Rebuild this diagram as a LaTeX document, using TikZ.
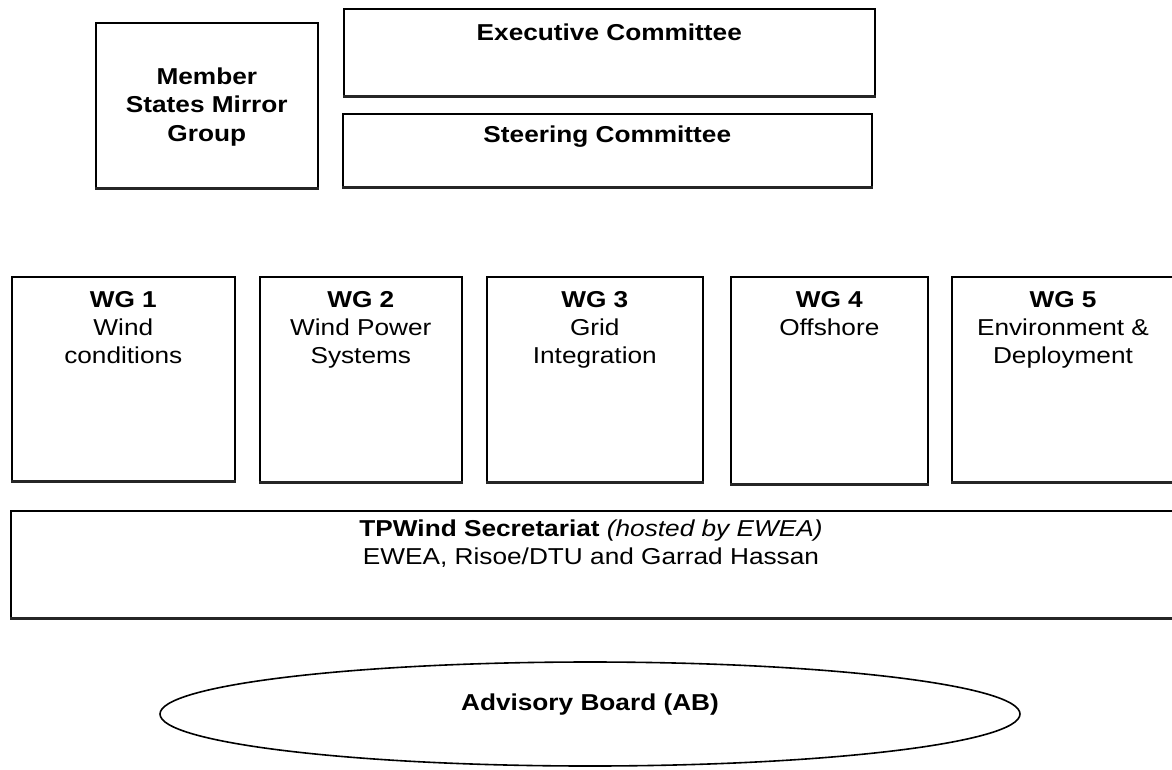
\documentclass[tikz,border=0pt]{standalone}
\usepackage{fontspec}
\setmainfont{Liberation Sans}[FakeStretch=1.14]
\usetikzlibrary{shapes.geometric}
\begin{document}
\begin{tikzpicture}[x=1pt,y=-1pt,
  box/.style={draw=black,line width=1.6pt,fill=white,inner sep=0pt,anchor=north west},
  shadowline/.style={line width=3pt,draw=black!85},
  txt/.style={anchor=north,align=center,inner sep=0pt,font=\fontsize{23}{28}\selectfont},
  btxt/.style={txt,font=\fontsize{23}{28.5}\selectfont\bfseries}]
\useasboundingbox (0,0) rectangle (1172,769);
\fill[white] (0,0) rectangle (1172,769);
% top row
\node[box,minimum width=222,minimum height=166] (msmg) at (95,22) {};
\node[btxt,anchor=center] at ([yshift=-1]msmg.center) {Member\\States Mirror\\Group};
\node[box,minimum width=531,minimum height=88] (exec) at (343,8) {};
\node[btxt] at ([yshift=-16]exec.north) {Executive Committee};
\node[box,minimum width=529,minimum height=74] (steer) at (342,113) {};
\node[btxt] at ([yshift=-13]steer.north) {Steering Committee};
% working groups
\node[box,minimum width=223,minimum height=205] (wg1) at (11,276) {};
\node[txt] at ([yshift=-15]wg1.north) {\textbf{WG 1}\\Wind\\conditions};
\node[box,minimum width=202,minimum height=206] (wg2) at (259,276) {};
\node[txt] at ([yshift=-15]wg2.north) {\textbf{WG 2}\\Wind Power\\Systems};
\node[box,minimum width=216,minimum height=206] (wg3) at (486,276) {};
\node[txt] at ([yshift=-15]wg3.north) {\textbf{WG 3}\\Grid\\Integration};
\node[box,minimum width=197,minimum height=208] (wg4) at (730,276) {};
\node[txt] at ([yshift=-15]wg4.north) {\textbf{WG 4}\\Offshore};
\node[box,minimum width=228,minimum height=206] (wg5) at (951,276) {};
\node[txt] at (1063,291) {\textbf{WG 5}\\Environment \&\\Deployment};
% secretariat
\node[box,minimum width=1166,minimum height=108] (sec) at (10,510) {};
\node[txt] at (591,520) {\textbf{TPWind Secretariat} \textit{(hosted by EWEA)}\\EWEA, Risoe/DTU and Garrad Hassan};
% heavier bottom edges
\foreach \n in {msmg,exec,steer,wg1,wg2,wg3,wg4,wg5,sec}
  \draw[shadowline] ([yshift=0.8pt]\n.south west) -- ([yshift=0.8pt]\n.south east);
% advisory board
\node[ellipse,draw=black,line width=1.6pt,minimum width=860,minimum height=104,inner sep=0pt] (ab) at (590,714) {};
\node[btxt,anchor=center] at (590,705) {Advisory Board (AB)};
\end{tikzpicture}
\end{document}
